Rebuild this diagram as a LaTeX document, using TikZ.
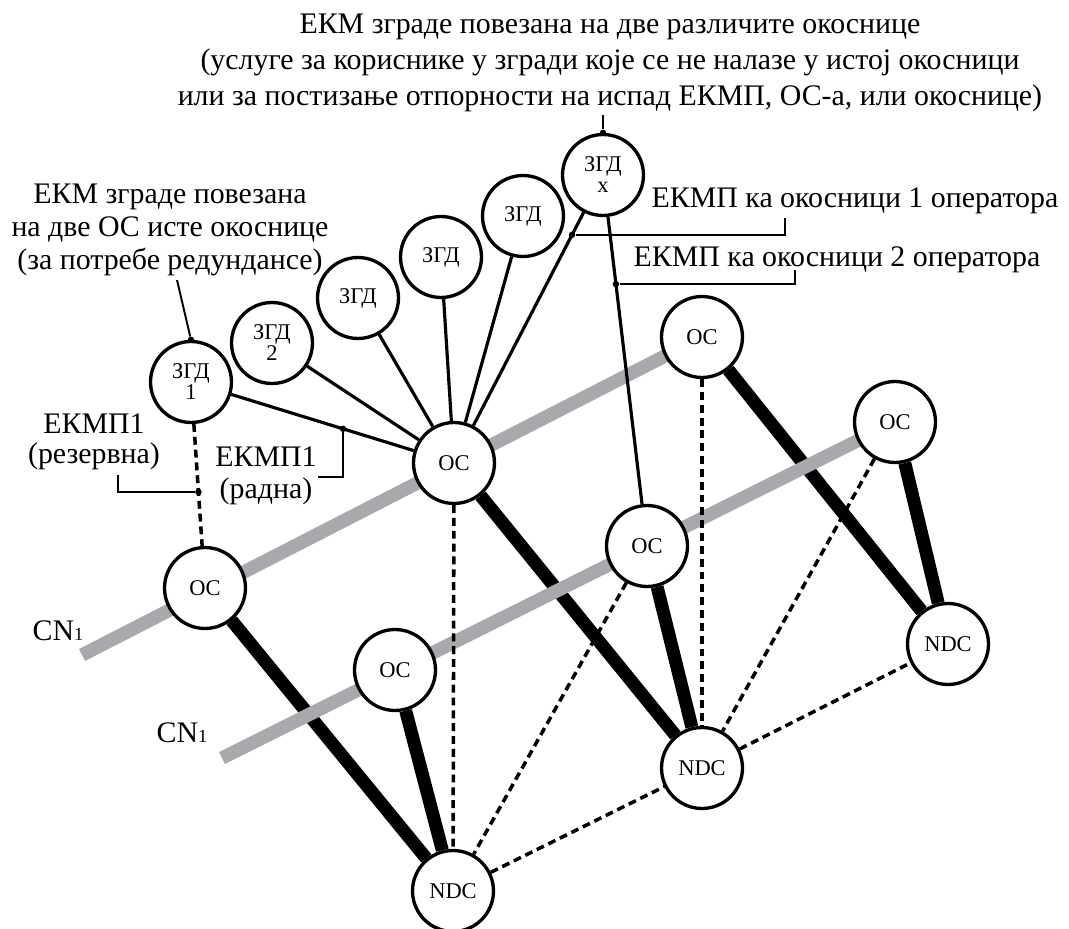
\documentclass[tikz,border=0pt]{standalone}
\usepackage{fontspec}
\setmainfont{Liberation Serif}
\usetikzlibrary{calc}

\definecolor{backbone}{RGB}{167,169,172}

\pgfdeclarelayer{thick}
\pgfdeclarelayer{grey}
\pgfdeclarelayer{lines}
\pgfsetlayers{thick,grey,lines,main}

\tikzset{
  site/.style={circle,draw,fill=white,line width=1.9pt,minimum size=1.62cm,
    inner sep=0pt,align=center,font=\fontsize{12.8}{12}\selectfont},
  trunk/.style={line width=7.4pt},
  cn/.style={draw=backbone,line width=7.6pt},
  link/.style={line width=1.8pt},
  spare/.style={line width=2pt,dash pattern=on 4.5pt off 2.8pt},
  callout/.style={line width=1.1pt},
  dot/.style={circle,fill,inner sep=0pt,minimum size=0.13cm},
  lbl/.style={align=center,inner sep=0pt,font=\fontsize{17}{19}\selectfont}
}

\begin{document}
\begin{tikzpicture}[x=0.02cm,y=-0.02cm]
\useasboundingbox (0,0) rectangle (1069,929);

%buildings
\node[site] (z1) at (191,382) {ЗГД\\1};
\node[site] (z2) at (272,343) {ЗГД\\2};
\node[site] (z3) at (358,298) {ЗГД};
\node[site] (z4) at (441,257) {ЗГД};
\node[site] (z5) at (523,216) {ЗГД};
\node[site] (zx) at (603,175) {ЗГД\\x};

%backbone 1
\node[site] (oc11) at (205,588) {OC};
\node[site] (oc12) at (454,463) {OC};
\node[site] (oc13) at (702,337) {OC};
%backbone 2
\node[site] (oc21) at (395,670) {OC};
\node[site] (oc22) at (647,546) {OC};
\node[site] (oc23) at (895,422) {OC};
%data centres
\node[site] (ndc1) at (453,891) {NDC};
\node[site] (ndc2) at (702,768) {NDC};
\node[site] (ndc3) at (948,644) {NDC};

%trunks
\begin{pgfonlayer}{thick}
  \foreach \i in {1,2,3} {
    \draw[trunk] (oc1\i) -- (ndc\i);
    \draw[trunk] (oc2\i) -- (ndc\i);
  }
\end{pgfonlayer}

%backbones
\coordinate (cn1) at (82,655);
\coordinate (cn2) at (222,758);
\begin{pgfonlayer}{grey}
  \draw[cn] (cn1) -- (oc13.center);
  \draw[cn] (cn2) -- (oc23.center);
\end{pgfonlayer}

%links
\begin{pgfonlayer}{lines}
  \foreach \z in {z1,z2,z3,z4,z5,zx}
    \draw[link] (\z) -- (oc12);
  \draw[link] (zx) -- (oc22);
  \foreach \a/\b in {z1/oc11,oc12/ndc1,oc22/ndc1,oc13/ndc2,oc23/ndc2,ndc1/ndc2,ndc2/ndc3}
    \draw[spare] (\a) -- (\b);
\end{pgfonlayer}

\node[lbl] (cnl1) at (58,631) {CN{\fontsize{10.5}{10}\selectfont 1}};
\node[lbl] (cnl2) at (182,733) {CN{\fontsize{10.5}{10}\selectfont 1}};

%callouts
\node[dot] (d1) at ($(z1)!0.578!(oc12)$) {};
\node[dot] (d2) at ($(z1)!0.534!(oc11)$) {};
\node[dot] (d3) at ($(zx)!0.208!(oc12)$) {};
\node[dot] (d4) at ($(zx)!0.294!(oc22)$) {};
\node[dot] (d5) at (z1.north) {};
\node[dot] (d6) at (zx.north) {};

\coordinate (c1) at (177,280);
\coordinate (c2) at (603,115);
\coordinate (b1) at (785,218);
\coordinate (b2) at (795,270);
\coordinate (b3) at (318,477);
\coordinate (b4) at (118,475);
\draw[callout] (c1) -- (d5);
\draw[callout] (c2) -- (d6);
\draw[callout] (d3) -| (b1);
\draw[callout] (d4) -| (b2);
\draw[callout] (d1) |- (b3);
\draw[callout] (b4) |- (d2);

\node[lbl,font=\fontsize{17}{20.4}\selectfont] (t0) at (610,63)
  {ЕКМ зграде повезана на две различите окоснице\\
   (услуге за кориснике у згради које се не налазе у истој окосници\\
   или за постизање отпорности на испад ЕКМП, ОС-а, или окоснице)};
\node[lbl] (t1) at (170,230)
  {ЕКМ зграде повезана\\на две ОС исте окоснице\\(за потребе редундансе)};
\node[lbl,font=\fontsize{17}{17}\selectfont] (t2) at (94,442) {ЕКМП1\\(резервна)};
\node[lbl,font=\fontsize{17}{18}\selectfont] (t3) at (266,476) {ЕКМП1\\(радна)};
\node[lbl] (t4) at (855,201) {ЕКМП ка окосници 1 оператора};
\node[lbl] (t5) at (837,260) {ЕКМП ка окосници 2 оператора};
\end{tikzpicture}
\end{document}
